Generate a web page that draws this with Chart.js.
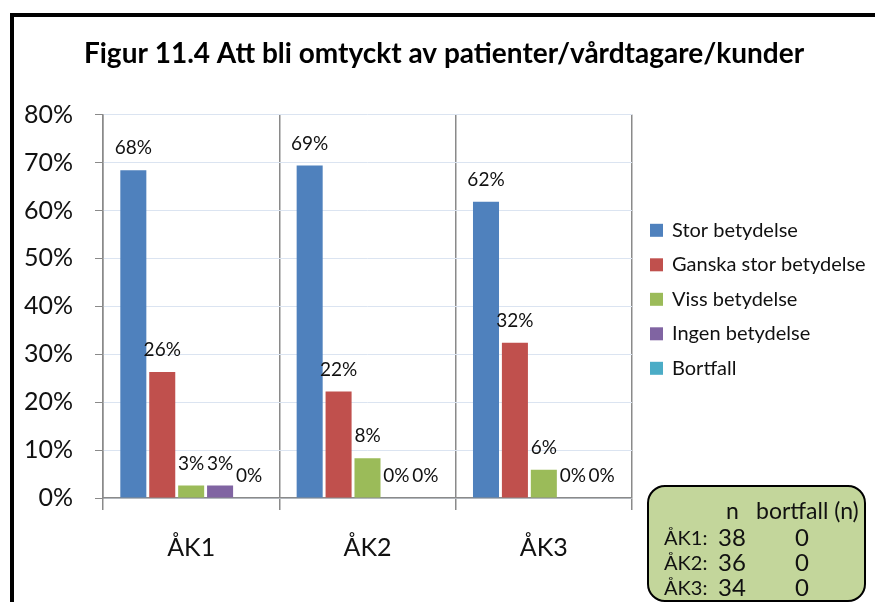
<!DOCTYPE html>
<html>
<head>
<meta charset="utf-8">
<script src="https://cdn.jsdelivr.net/npm/chart.js@4"></script>
<style>
	body { margin: 0; background: #fff; font-family: Lato, "Open Sans", sans-serif; }
	#wrap { position: relative; width: 875px; height: 602px; overflow: hidden; }
	#frame { position: absolute; left: 10px; top: 13px; width: 900px; height: 620px;
		border-left: 4px solid #000; border-top: 4px solid #000; }
	#box { position: absolute; left: 647px; top: 485px; width: 215px; height: 113px;
		background: #c3d69b; border: 2px solid #000; border-radius: 18px; color: #111; }
	#box span { position: absolute; white-space: nowrap; line-height: 1; }
	.head { font-size: 23px; }
	.lab { font-size: 20px; }
	.num { font-size: 24px; }
</style>
</head>
<body>
<div id="wrap">
	<div id="frame"></div>
	<canvas id="chart" width="875" height="602"></canvas>
	<div id="box"></div>
</div>
<script>

var categories = ["ÅK1", "ÅK2", "ÅK3"];
var seriesNames = ["Stor betydelse", "Ganska stor betydelse", "Viss betydelse", "Ingen betydelse", "Bortfall"];
var storBetydelse = [68.4, 69.4, 61.8];
var ganskaStor = [26.3, 22.2, 32.4];
var vissBetydelse = [2.6, 8.3, 5.9];
var ingenBetydelse = [2.6, 0, 0];
var bortfall = [0, 0, 0];
var yTicks = [0, 10, 20, 30, 40, 50, 60, 70, 80];
var nRows = ["ÅK1:", "ÅK2:", "ÅK3:"];
var nValues = [38, 36, 34];
var bortfallN = [0, 0, 0];

var colors = ["#4f81bd", "#c0504d", "#9bbb59", "#8064a2", "#4bacc6"];
var font = "Lato, 'Open Sans', sans-serif";

var ChartController = function(){

	var init = function(){
		buildTable();
		drawChart();
	}

	return {
		init : init
	}

	function buildTable(){
		var box = document.getElementById("box");
		var html = '<span class="head" style="left:77px;top:12px">n</span>'
			+ '<span class="head" style="left:107px;top:12px">bortfall (n)</span>';
		for (var i = 0; i < nRows.length; i++){
			var top = 38 + i * 25;
			html += '<span class="lab" style="left:15px;top:' + (top + 2) + 'px">' + nRows[i] + '</span>'
				+ '<span class="num" style="left:69px;top:' + top + 'px">' + nValues[i] + '</span>'
				+ '<span class="num" style="left:146px;top:' + top + 'px">' + bortfallN[i] + '</span>';
		}
		box.innerHTML = html;
	}

	// value labels above every bar
	function getLabelPlugin(){
		return {
			id: "valueLabels",
			afterDatasetsDraw: function(chart){
				var ctx = chart.ctx;
				ctx.save();
				ctx.font = "19px " + font;
				ctx.fillStyle = "#111";
				ctx.textAlign = "center";
				ctx.textBaseline = "middle";
				chart.data.datasets.forEach(function(ds, i){
					chart.getDatasetMeta(i).data.forEach(function(bar, j){
						ctx.fillText(Math.round(ds.data[j]) + "%", bar.x, bar.y - 22);
					});
				});
				ctx.restore();
			}
		};
	}

	// legend to the right of the plot (built-in one is capped in width)
	function getLegendPlugin(){
		return {
			id: "sideLegend",
			afterDraw: function(chart){
				var ctx = chart.ctx;
				var area = chart.chartArea;
				var step = 34.5;
				var n = chart.data.datasets.length;
				var y0 = (area.top + area.bottom) / 2 - 7 - step * (n - 1) / 2;
				ctx.save();
				ctx.font = "20px " + font;
				ctx.textBaseline = "middle";
				chart.data.datasets.forEach(function(ds, i){
					var y = y0 + i * step;
					ctx.fillStyle = ds.backgroundColor;
					ctx.fillRect(area.right + 18, y - 6.5, 13, 13);
					ctx.fillStyle = "#111";
					ctx.fillText(ds.label, area.right + 40, y);
				});
				ctx.restore();
			}
		};
	}

	function drawChart(){
		var series = [storBetydelse, ganskaStor, vissBetydelse, ingenBetydelse, bortfall];
		var datasets = series.map(function(values, i){
			return {
				label: seriesNames[i],
				data: values,
				backgroundColor: colors[i],
				categoryPercentage: 0.82,
				barPercentage: 0.9
			};
		});

		var ctx = document.getElementById("chart").getContext("2d");
		new Chart(ctx, {
			type: "bar",
			data: { labels: categories, datasets: datasets },
			plugins: [getLabelPlugin(), getLegendPlugin()],
			options: {
				responsive: false,
				animation: false,
				layout: { padding: { left: 14, top: 20, right: 1, bottom: 16 } },
				plugins: {
					title: {
						display: true,
						text: "Figur 11.4 Att bli omtyckt av patienter/vårdtagare/kunder",
						color: "#000",
						font: { family: font, size: 28, weight: "bold" },
						padding: { top: 17, bottom: 44 }
					},
					legend: { display: false },
					tooltip: { enabled: false }
				},
				scales: {
					x: {
						grid: { offset: true, color: "#8a8a8a", tickLength: 12, lineWidth: 1.5 },
						border: { color: "#8a8a8a", width: 1.5 },
						ticks: { color: "#111", font: { family: font, size: 25 }, padding: 23 }
					},
					y: {
						min: 0,
						max: 80,
						afterBuildTicks: function(scale){
							scale.ticks = yTicks.map(function(v){ return { value: v }; });
						},
						afterFit: function(scale){ scale.width = 89; },
						grid: { color: "#dbe4f1", tickColor: "#8a8a8a", tickLength: 8 },
						border: { color: "#8a8a8a", width: 1.5 },
						ticks: {
							color: "#111",
							font: { family: font, size: 25 },
							padding: 22,
							callback: function(v){ return v + "%"; }
						}
					},
					// empty right-hand scale that keeps room for the legend
					legendSpace: {
						position: "right",
						min: 0,
						max: 1,
						grid: { display: false },
						border: { display: false },
						ticks: { display: false },
						afterFit: function(scale){ scale.width = 242; }
					}
				}
			}
		});
	}
}();

ChartController.init();
</script>
</body>
</html>
